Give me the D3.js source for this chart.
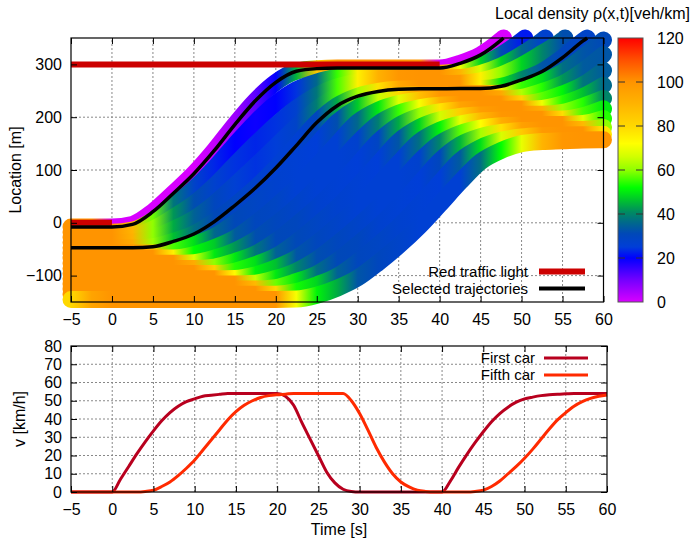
<!DOCTYPE html>
<html>
<head>
<meta charset="utf-8">
<script src="https://cdnjs.cloudflare.com/ajax/libs/d3/7.8.5/d3.min.js"></script>
<style>
  body { margin: 0; background: #fff; }
  svg { font-family: "Liberation Sans", Arial, sans-serif; }
</style>
</head>
<body>
<script>
// ---- data ----
// time grid of the trajectories [s]
var times = [-5,-2.5,0,2.5,5,7.5,10,12.5,15,17.5,20,22.5,25,27.5,30,32.5,35,37.5,40,42.5,45,47.5,50,52.5,55,57.5,60];

// car positions [m] on the time grid, car 1 is the first in the queue (null = car has left)
var positions = [
  [-8,-8,-8,-3,21,56,93,137,186,231,266,287,292,293,293,293,293,293,293,302,318,346,null,null,null,null,null],
  [-17.8,-17.8,-17.8,-14,4.5,33.2,64.5,103.3,147.7,189.7,225.5,251.8,266.5,275.2,279.7,282,283,283.2,283.3,286,298,318,345,null,null,null,null],
  [-27.6,-27.6,-27.6,-25.1,-12.1,10.4,35.9,69.7,109.4,148.4,184.9,216.7,240.9,257.4,266.4,270.9,272.9,273.4,273.6,275,283,297,319,345,null,null,null],
  [-37.4,-37.4,-37.4,-36.2,-28.7,-12.4,7.4,36,71.1,107.1,144.4,181.5,215.4,239.6,253.1,259.9,262.9,263.6,263.8,264.5,269,280,298,321,346,null,null],
  [-47.2,-47.2,-47.2,-47.2,-45.2,-35.2,-21.2,2.3,32.8,65.8,103.8,146.3,189.8,221.8,239.8,248.8,252.8,253.8,254,254.2,254.2,258.5,270.8,286.5,312.8,344.6,null],
  [-57,-57,-57,-57,-57,-53.2,-41.1,-25.8,0,31.7,65.5,105.3,148,190.7,218.2,233,240.3,243.3,244,244.5,244.5,245.2,252.5,266.1,285.4,314.1,346.3],
  [-66.8,-66.8,-66.8,-66.8,-66.8,-66.5,-60.4,-47.2,-29.5,-1.7,30.6,65.8,107,149.5,190.6,213.2,225.7,232,233.8,234.2,234.8,234.8,237.6,248.6,263.1,287.6,318.7],
  [-76.6,-76.6,-76.6,-76.6,-76.6,-76.6,-75.5,-67.1,-53.3,-32.5,-3,29.5,66.6,108.6,151.6,187.5,207.5,217.9,222.9,224.2,224.8,225.1,225.3,230.9,243.9,261,288.5],
  [-86.4,-86.4,-86.4,-86.4,-86.4,-86.4,-86.4,-83.9,-73.3,-59,-34.9,-4.1,29.1,67.7,110.2,153.5,184.4,201.4,210,213.7,214.6,215.2,215.4,216.7,225.4,239.2,260.5],
  [-96.2,-96.2,-96.2,-96.2,-96.2,-96.2,-96.2,-96.2,-91.7,-79.3,-63.5,-37,-5.2,29,69.3,111.8,154.4,180.3,194.8,201.5,204.3,205.3,205.6,205.7,209,220.7,235.5],
  [-106,-106,-106,-106,-106,-106,-106,-106,-105.5,-98.8,-85.4,-67,-38.7,-6.2,29.3,70.8,113.4,153.2,175.1,187.1,193,194.6,195.5,196,196.4,202.7,216],
  [-115.8,-115.8,-115.8,-115.8,-115.8,-115.8,-115.8,-115.8,-115.8,-114.4,-105.4,-91.5,-69.7,-39.8,-7.1,30.2,72.4,115.6,150.1,169.3,179.3,183.9,185.1,186,186.3,187.9,197.3],
  [-125.6,-125.6,-125.6,-125.6,-125.6,-125.6,-125.6,-125.6,-125.6,-125.6,-122.7,-111.4,-96.9,-72.1,-40.9,-7.6,31.5,74,117.2,147.6,163.1,171.1,174.6,175.7,176.4,176.6,180.6],
  [-135.4,-135.4,-135.4,-135.4,-135.4,-135.4,-135.4,-135.4,-135.4,-135.4,-135.3,-130.3,-117.5,-101.1,-74,-42,-7.4,33.1,75.6,117.8,142.3,156.2,162.6,165.1,166.2,166.9,167.5],
  [-145.2,-145.2,-145.2,-145.2,-145.2,-145.2,-145.2,-145.2,-145.2,-145.2,-145.2,-144.5,-137.2,-123.6,-104.3,-75.6,-43.4,-7,34.7,77.4,115.8,137,149.9,154,155.5,157,157.2]
];

// local density [veh/km] of every car on the same grid
var densities = [
  [100,100,0,0,0,0,0,2,6,12,20,45,85,100,100,100,100,100,0,0,0,0],
  [100,100,100,88,58,38,28,23,20,19,20,24,36,55,75,90,98,100,100,70,48,32,22],
  [100,100,100,90,60,42,32,27,24,23,24,27,38,56,75,91,99,100,100,90,67,48,36,27],
  [100,100,100,91,60,44,35,30,26,24,25,28,39,56,75,91,99,100,100,98,75,60,48,40,32],
  [100,100,100,93,61,46,37,31,29,27,26,26,30,44,62,78,94,100,100,100,75,50,40,33,30,28],
  [100,100,100,100,85,56,49,36,31,29,27,26,25,32,47,65,80,97,100,100,100,75,55,49,37,33,31],
  [100,100,100,100,100,75,52,47,34,30,29,26,26,26,36,50,68,87,99,100,100,94,63,54,42,34,33],
  [100,100,100,100,100,100,67,50,42,32,30,28,26,26,27,39,55,71,91,100,100,100,81,57,51,38,34],
  [100,100,100,100,100,100,93,60,50,38,31,30,27,26,25,29,44,61,77,95,100,100,100,70,54,46,36],
  [100,100,100,100,100,100,100,82,54,49,35,31,29,27,26,25,33,48,66,83,97,100,100,92,61,54,40],
  [100,100,100,100,100,100,100,100,73,51,46,33,30,28,26,26,26,37,51,69,89,99,100,100,79,56,50],
  [100,100,100,100,100,100,100,100,100,65,50,40,32,30,28,26,26,27,40,57,72,92,100,100,100,68,54],
  [100,100,100,100,100,100,100,100,100,89,58,50,37,31,30,27,26,25,30,45,62,78,96,100,100,89,60],
  [100,100,100,100,100,100,100,100,100,100,80,53,48,35,30,29,27,26,25,34,49,67,84,98,100,100,77],
  [80,95,100,100,100,100,100,100,100,100,100,71,51,44,33,30,28,26,26,26,37,52,69,90,99,100,100]
];

// time at which a car leaves the road at x = 350 m
var exitTimes = [47.8, 50.4, 52.9, 55.3, 58.0, null, null, null, null, null, null, null, null, null, null];
var selectedCars = [0, 4];

// red phases of the two traffic lights
var lightPos = [0, 300];
var lightFrom = [-5, -5];
var lightTo = [0, 40];

// speed of the first and the fifth car [km/h]
var vTimes = [-5,-4,-3,-2,-1,0,1,2,3,4,5,6,7,8,9,10,11,12,13,14,15,16,17,18,19,20,21,22,23,24,25,26,27,28,29,30,
  31,32,33,34,35,36,37,38,39,40,41,42,43,44,45,46,47,48,49,50,51,52,53,54,55,56,57,58,59,60];
var vFirst = [0,0,0,0,0,0,7,14,21,27.5,33.5,39,43.5,47,49.5,51,52.5,53,53.5,54,54,54,54,54,54,54,
  52.5,47.5,38,29,20,11,5,1.5,0.3,0,0,0,0,0,0,0,0,0,0,0,
  6,13.5,20.5,27,33,38.5,43,46.5,49.2,51,52,52.8,53.3,53.6,53.8,54,54,54,54,54];
var vFifth = [0,0,0,0,0,0,0,0,0,0.3,1,3,5.5,9,13,17.5,23,28.5,34,39.5,44,47.5,50,51.8,52.8,53.3,53.6,
  54,54,54,54,54,54,54,50,43,34,24.5,16.5,10,5.5,2.8,1,0.3,0,0,0,0,0,
  0.3,1,3,6,10,14,18.5,23.5,29,34.5,39.5,43.5,47,49.5,51.3,52.5,53.2];

var xTicks = [-5,0,5,10,15,20,25,30,35,40,45,50,55,60];
var yTicksTop = [-100,0,100,200,300];
var yTicksBottom = [0,10,20,30,40,50,60,70,80];
var cbTicks = [0,20,40,60,80,100,120];

// colour palette of the density
var palStops = [0,10,20,25,31,36,41,46,52,60,66,72,80,90,100,110,120];
var palColors = ["#d800ff","#7400ff","#0000ff","#003ed8","#0048b8","#00688c","#008c60","#00c030","#00ff00",
  "#90ff00","#d0ff00","#ffff00","#ffd800","#ffb400","#ff9400","#ff5000","#ff0000"];

// ---- chart ----
var svg = d3.select("body").append("svg")
    .attr("width", 694)
    .attr("height", 538);
var defs = svg.append("defs");

var color = d3.scaleLinear().domain(palStops).range(palColors).clamp(true);

var x = d3.scaleLinear().domain([-5, 60]).range([71, 603.5]);
var y = d3.scaleLinear().domain([-150, 350]).range([302, 38]);

function grid(g, xs, ys, xsc, ysc) {
  g.selectAll(".gx").data(xs.slice(1, -1)).enter().append("line")
    .attr("x1", function(d) { return xsc(d); }).attr("x2", function(d) { return xsc(d); })
    .attr("y1", ysc.range()[0]).attr("y2", ysc.range()[1]);
  g.selectAll(".gy").data(ys).enter().append("line")
    .attr("y1", function(d) { return ysc(d); }).attr("y2", function(d) { return ysc(d); })
    .attr("x1", xsc.range()[0]).attr("x2", xsc.range()[1]);
  g.selectAll("line").attr("stroke", "#888").attr("stroke-width", 1).attr("stroke-dasharray", "2,2");
}

function axes(xsc, ysc, xs, ys) {
  var x0 = xsc.range()[0], x1 = xsc.range()[1], y0 = ysc.range()[0], y1 = ysc.range()[1];
  var b = svg.append("g").attr("transform", "translate(0," + y0 + ")")
    .call(d3.axisBottom(xsc).tickValues(xs).tickSizeInner(-6).tickSizeOuter(0).tickPadding(12));
  var t = svg.append("g").attr("transform", "translate(0," + y1 + ")")
    .call(d3.axisTop(xsc).tickValues(xs).tickSizeInner(-6).tickSizeOuter(0).tickFormat(""));
  var l = svg.append("g").attr("transform", "translate(" + x0 + ",0)")
    .call(d3.axisLeft(ysc).tickValues(ys).tickSizeInner(-6).tickSizeOuter(0).tickPadding(9));
  var r = svg.append("g").attr("transform", "translate(" + x1 + ",0)")
    .call(d3.axisRight(ysc).tickValues(ys).tickSizeInner(-6).tickSizeOuter(0).tickFormat(""));
  [b, t, l, r].forEach(function(a) {
    a.select(".domain").remove();
    a.attr("font-size", 16).attr("font-family", null);
    a.selectAll("line").attr("stroke", "#000");
    a.selectAll("text").attr("fill", "#000");
  });
  svg.append("rect").attr("x", x0).attr("y", y1).attr("width", x1 - x0).attr("height", y0 - y1)
    .attr("fill", "none").attr("stroke", "#000").attr("stroke-width", 1.2);
}

// top panel: trajectories
grid(svg.append("g"), xTicks, yTicksTop, x, y);

var line = d3.line()
    .x(function(d) { return x(d[0]); })
    .y(function(d) { return y(d[1]); })
    .curve(d3.curveMonotoneX);

var tracks = positions.map(function(pos, i) {
  var pts = [];
  pos.forEach(function(p, j) {
    if (p !== null) pts.push([times[j], p, densities[i][j]]);
  });
  if (exitTimes[i] !== null) pts.push([exitTimes[i], 350, pts[pts.length - 1][2]]);
  return pts;
});

tracks.forEach(function(pts, i) {
  var grad = defs.append("linearGradient")
      .attr("id", "car" + i)
      .attr("gradientUnits", "userSpaceOnUse")
      .attr("x1", x(-5)).attr("x2", x(60)).attr("y1", 0).attr("y2", 0);
  grad.selectAll("stop").data(pts).enter().append("stop")
      .attr("offset", function(d) { return (d[0] + 5) / 65; })
      .attr("stop-color", function(d) { return color(d[2]); });
  svg.append("path")
      .attr("d", line(pts))
      .attr("fill", "none")
      .attr("stroke", "url(#car" + i + ")")
      .attr("stroke-width", 17)
      .attr("stroke-linecap", "round")
      .attr("stroke-linejoin", "round");
});

svg.selectAll(".light").data(lightPos).enter().append("line")
    .attr("x1", function(d, i) { return x(lightFrom[i]); })
    .attr("x2", function(d, i) { return x(lightTo[i]); })
    .attr("y1", function(d) { return y(d); })
    .attr("y2", function(d) { return y(d); })
    .attr("stroke", "#cc0000")
    .attr("stroke-width", 6);

svg.selectAll(".sel").data(selectedCars).enter().append("path")
    .attr("d", function(d) { return line(tracks[d]); })
    .attr("fill", "none")
    .attr("stroke", "#000")
    .attr("stroke-width", 3.5);

axes(x, y, xTicks, yTicksTop);

svg.append("text")
    .attr("transform", "translate(21,170) rotate(-90)")
    .attr("text-anchor", "middle")
    .attr("font-size", 16)
    .text("Location [m]");

// legend top
var legTop = [["Red traffic light", "#cc0000", 6], ["Selected trajectories", "#000", 4]];
legTop.forEach(function(d, i) {
  var yy = 271.5 + i * 17;
  svg.append("text").attr("x", 528).attr("y", yy + 5).attr("text-anchor", "end")
    .attr("font-size", 15).text(d[0]);
  svg.append("line").attr("x1", 539).attr("x2", 585).attr("y1", yy).attr("y2", yy)
    .attr("stroke", d[1]).attr("stroke-width", d[2]);
});

// colour box
var cb = d3.scaleLinear().domain([0, 120]).range([302, 38]);
var cbGrad = defs.append("linearGradient").attr("id", "cbar")
    .attr("x1", 0).attr("y1", 1).attr("x2", 0).attr("y2", 0);
cbGrad.selectAll("stop").data(palStops).enter().append("stop")
    .attr("offset", function(d) { return d / 120; })
    .attr("stop-color", function(d, i) { return palColors[i]; });
svg.append("rect").attr("x", 618).attr("y", 38).attr("width", 25).attr("height", 264)
    .attr("fill", "url(#cbar)").attr("stroke", "#555").attr("stroke-width", 1);
var cbt = svg.append("g").selectAll("g").data(cbTicks).enter().append("g");
cbt.filter(function(d) { return d > 0 && d < 120; }).append("line")
    .attr("x1", 618).attr("x2", 625).attr("y1", cb).attr("y2", cb).attr("stroke", "#333");
cbt.filter(function(d) { return d > 0 && d < 120; }).append("line")
    .attr("x1", 636).attr("x2", 643).attr("y1", cb).attr("y2", cb).attr("stroke", "#333");
cbt.append("text").attr("x", 657).attr("y", function(d) { return cb(d) + 5.5; })
    .attr("font-size", 16).text(function(d) { return d; });

svg.append("text").attr("x", 690).attr("y", 19).attr("text-anchor", "end")
    .attr("font-size", 16).text("Local density \u03c1(x,t)[veh/km]");

// bottom panel: speed
var x2 = d3.scaleLinear().domain([-5, 60]).range([71, 607]);
var y2 = d3.scaleLinear().domain([0, 80]).range([492, 346]);

grid(svg.append("g"), xTicks, yTicksBottom.slice(1, -1), x2, y2);

var vline = d3.line()
    .x(function(d, i) { return x2(vTimes[i]); })
    .y(function(d) { return y2(d); })
    .curve(d3.curveMonotoneX);

var speeds = [[vFirst, "#b8001e"], [vFifth, "#ff2a00"]];
svg.selectAll(".speed").data(speeds).enter().append("path")
    .attr("d", function(d) { return vline(d[0]); })
    .attr("fill", "none")
    .attr("stroke", function(d) { return d[1]; })
    .attr("stroke-width", 3);

axes(x2, y2, xTicks, yTicksBottom);

svg.append("text")
    .attr("transform", "translate(25,419) rotate(-90)")
    .attr("text-anchor", "middle")
    .attr("font-size", 16)
    .text("v [km/h]");
svg.append("text").attr("x", 339).attr("y", 535).attr("text-anchor", "middle")
    .attr("font-size", 16).text("Time [s]");

var legBottom = [["First car", "#b8001e"], ["Fifth car", "#ff2a00"]];
legBottom.forEach(function(d, i) {
  var yy = 358 + i * 17;
  svg.append("text").attr("x", 535).attr("y", yy + 5).attr("text-anchor", "end")
    .attr("font-size", 15).text(d[0]);
  svg.append("line").attr("x1", 544).attr("x2", 588).attr("y1", yy).attr("y2", yy)
    .attr("stroke", d[1]).attr("stroke-width", 3);
});
</script>
</body>
</html>
